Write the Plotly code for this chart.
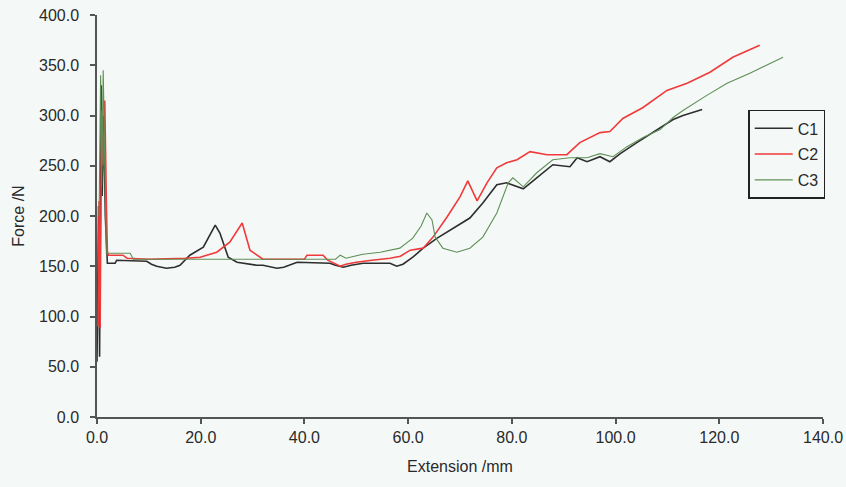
import plotly.graph_objects as go

# ---- data ----
c1_x = [0.0, 0.3, 0.5, 0.8, 1.0, 1.3, 1.6, 2.0, 3.5, 3.8, 9.6, 10.5, 11.5, 13.4, 15.0, 16.0, 17.9,
        20.5, 22.8, 23.7, 25.3, 27.0, 30.8, 32.0, 34.7, 36.0, 38.6, 44.9, 46.0, 47.5, 49.0, 51.3,
        55.2, 56.5, 57.8, 59.0, 60.9, 62.9, 65.6, 68.7, 71.9, 74.4, 77.1, 79.0, 80.5, 82.2, 84.8,
        87.9, 91.2, 92.6, 94.5, 97.0, 98.9, 100.9, 104.1, 107.2, 109.9, 111.1, 113.0, 115.0, 116.7]
c1_y = [55, 210, 60, 330, 220, 300, 200, 153, 153, 156, 155, 152, 150, 148, 149, 151, 161,
        169, 191, 183, 159, 154, 151, 151, 148, 149, 154, 153, 151, 149, 151, 153,
        153, 153, 150, 152, 159, 168, 178, 188, 198, 213, 231, 233, 230, 227, 238,
        251, 249, 258, 254, 259, 254, 262, 273, 283, 292, 296, 300, 303, 306]

c2_x = [0.2, 0.4, 0.6, 0.9, 1.2, 1.5, 1.8, 2.0, 2.2, 5.0, 5.8, 10.0, 17.0, 19.9, 23.1, 25.6, 28.0,
        29.5, 32.0, 40.0, 40.5, 43.6, 44.5, 46.9, 48.0, 50.0, 53.0, 56.5, 58.5, 60.4, 62.9, 64.8,
        67.5, 70.0, 71.5, 73.3, 75.2, 77.1, 79.0, 81.0, 83.5, 86.8, 90.6, 93.1, 97.0, 98.9, 101.4,
        105.3, 109.9, 113.8, 118.2, 122.6, 127.8]
c2_y = [90, 215, 88, 305, 250, 315, 215, 165, 161, 161, 158, 157, 158, 159, 164, 174, 193,
        166, 157, 157, 161, 161, 156, 150, 152, 154, 156, 158, 160, 166, 168, 179,
        199, 219, 235, 215, 233, 248, 253, 256, 264, 261, 261, 273, 283, 284, 297,
        308, 325, 332, 343, 358, 370]

c3_x = [0.4, 0.7, 0.9, 1.2, 1.5, 1.8, 6.4, 7.0, 46.0, 46.9, 48.0, 51.3, 54.6, 58.4, 60.9, 62.5,
        63.6, 64.6, 65.2, 66.7, 69.4, 71.9, 74.4, 77.1, 79.3, 80.2, 82.2, 84.8, 87.9, 91.2, 94.5,
        97.0, 99.5, 102.2, 105.3, 108.6, 111.1, 113.0, 117.6, 121.5, 125.9, 132.3]
c3_y = [200, 340, 230, 345, 250, 163, 163, 157, 157, 161, 158, 162, 164, 168, 178, 190,
        203, 196, 179, 168, 164, 168, 179, 203, 233, 238, 229, 243, 256, 258, 258,
        262, 259, 269, 278, 286, 298, 305, 320, 332, 342, 358]

series_names = ["C1", "C2", "C3"]
x_ticks = [0, 20, 40, 60, 80, 100, 120, 140]
y_ticks = [0, 50, 100, 150, 200, 250, 300, 350, 400]

BG = "#f4f9f8"
FONT = "Liberation Sans, Arial, sans-serif"

fig = go.Figure()
fig.add_trace(go.Scatter(x=c1_x, y=c1_y, mode="lines", name=series_names[0], legendgroup="a",
                         line=dict(color="#2e2e2e", width=1.6)))
fig.add_trace(go.Scatter(x=c2_x, y=c2_y, mode="lines", name=series_names[1], legendgroup="b",
                         line=dict(color="#f03a3a", width=1.6)))
fig.add_trace(go.Scatter(x=c3_x, y=c3_y, mode="lines", name=series_names[2], legendgroup="c",
                         line=dict(color="#5f8f55", width=1.1)))

fig.update_layout(
    width=846, height=487,
    margin=dict(l=97, r=23, t=15, b=70),
    paper_bgcolor=BG, plot_bgcolor=BG,
    font=dict(family=FONT, size=16, color="#2a2a2a"),
    showlegend=True,
    legend=dict(x=0.897, y=0.764, xanchor="left", yanchor="top",
                bgcolor=BG, bordercolor="#222222", borderwidth=1.5,
                font=dict(size=16, color="#2a2a2a"),
                itemwidth=38,
                traceorder="grouped", tracegroupgap=2),
    xaxis=dict(range=[0, 140], tickvals=x_ticks, tickformat=".1f", automargin=False,
               showline=True, linecolor="#555555", linewidth=1.5,
               ticks="outside", ticklen=5, tickcolor="#555555", tickwidth=1.5,
               showgrid=False, zeroline=False,
               title=dict(text="Extension /mm", standoff=16, font=dict(size=16))),
    yaxis=dict(range=[0, 400], tickvals=y_ticks, tickformat=".1f", automargin=False,
               showline=True, linecolor="#555555", linewidth=1.5,
               ticks="outside", ticklen=5, tickcolor="#555555", tickwidth=1.5,
               showgrid=False, zeroline=False, ticklabelstandoff=8,
               title=dict(text="Force /N", standoff=10, font=dict(size=16))),
)

fig.write_html("out.html", config={"displayModeBar": False},
               post_script="document.body.style.margin='0px';")
